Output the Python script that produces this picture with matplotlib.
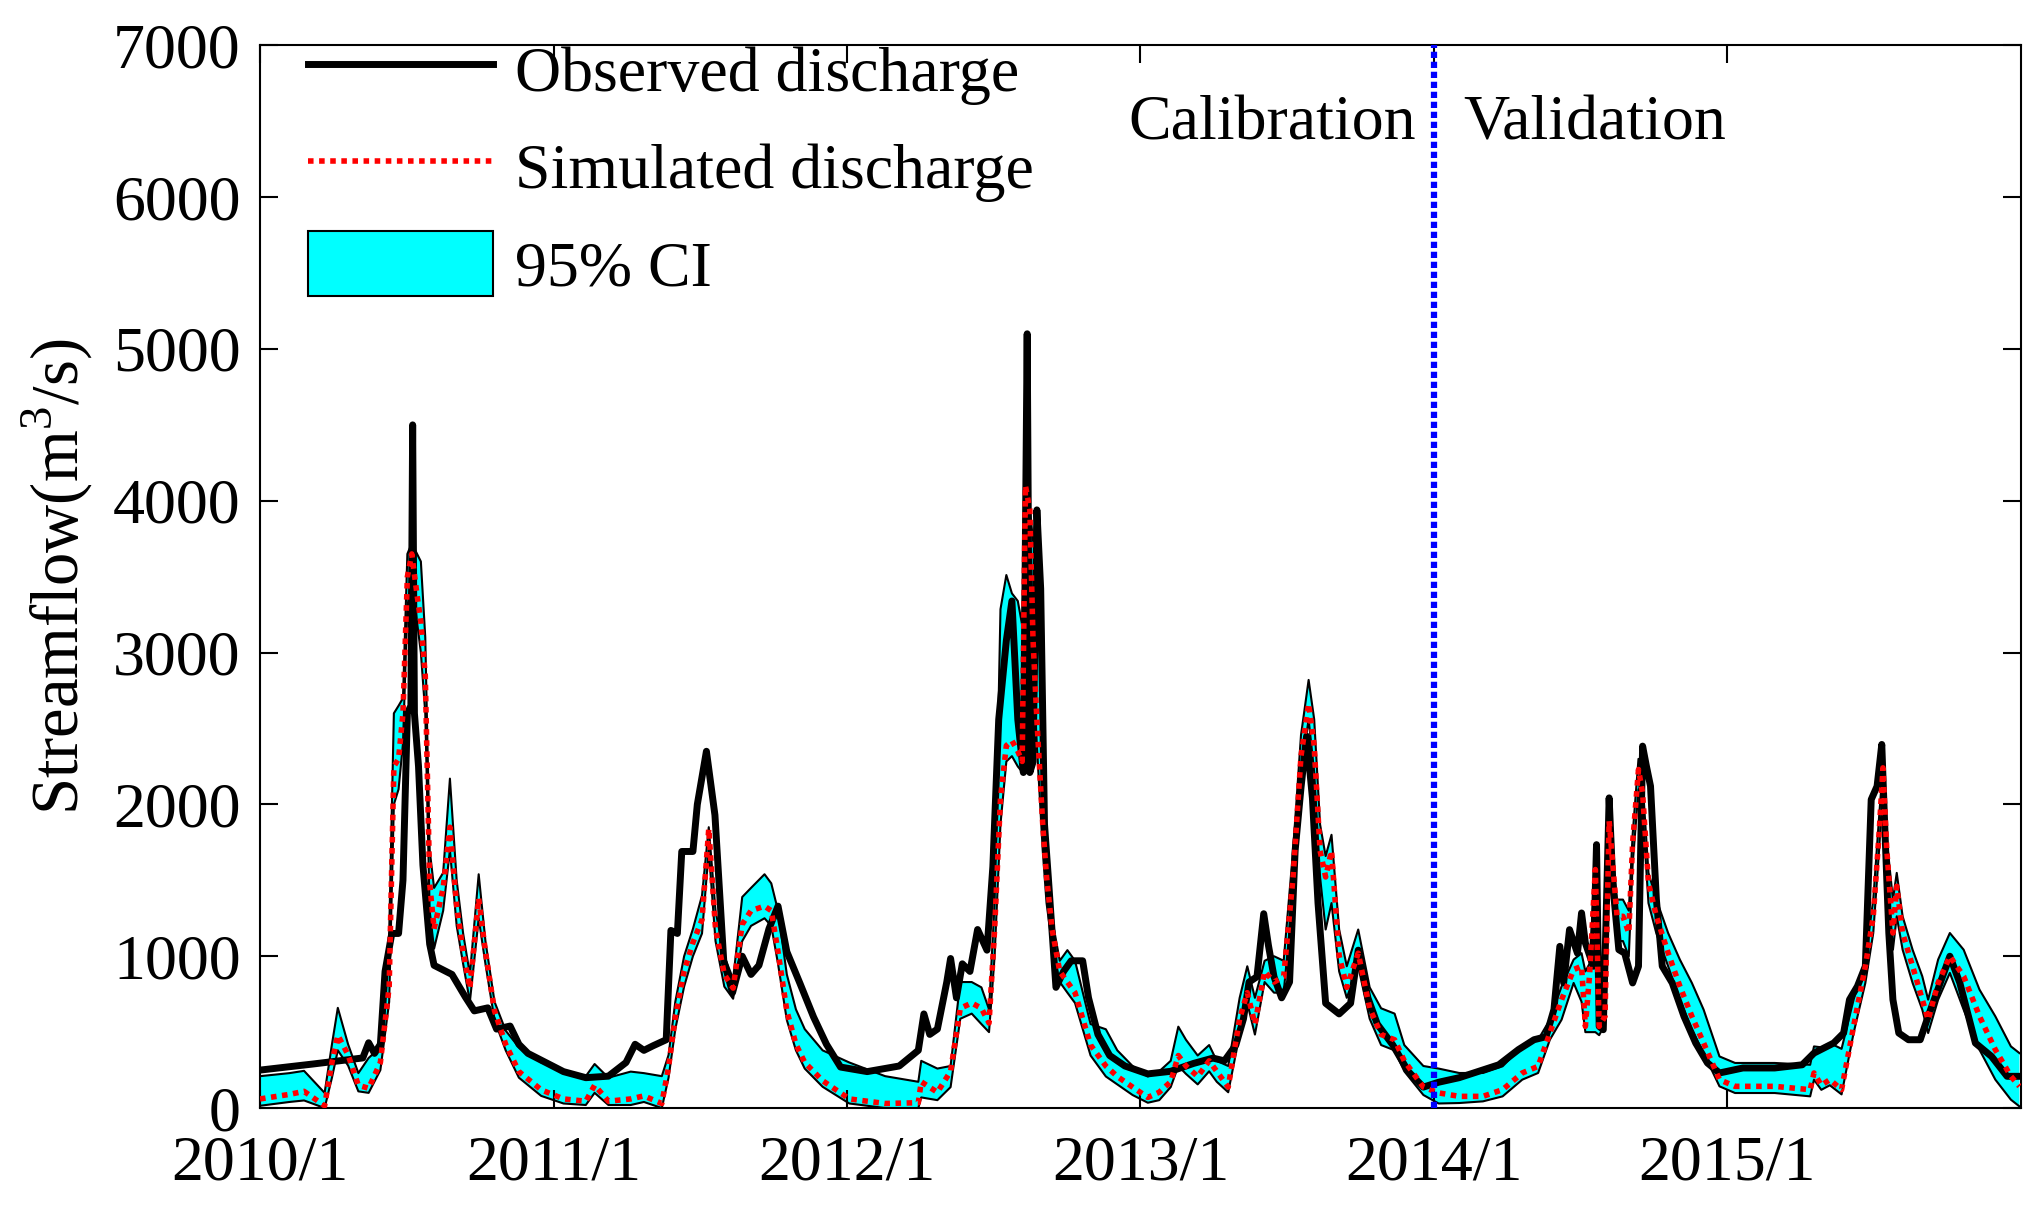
import matplotlib
matplotlib.use('Agg')
from matplotlib import pyplot as plt
from matplotlib.lines import Line2D
from matplotlib.patches import Patch

plt.rcParams['font.family'] = ['Liberation Serif', 'DejaVu Serif']
plt.rcParams['mathtext.fontset'] = 'custom'
plt.rcParams['mathtext.rm'] = 'Liberation Serif'

# observed discharge (time in decimal years, m3/s)
obs_t = [2010.000, 2010.180, 2010.350, 2010.370, 2010.390, 2010.410, 2010.426, 2010.449, 2010.472, 2010.487,
         2010.502, 2010.514, 2010.520, 2010.526, 2010.540, 2010.555, 2010.578, 2010.593, 2010.654, 2010.700,
         2010.730, 2010.776, 2010.806, 2010.852, 2010.882, 2010.913,
         2011.034, 2011.110, 2011.187, 2011.247, 2011.278, 2011.308, 2011.339, 2011.384, 2011.400, 2011.422,
         2011.437, 2011.475, 2011.490, 2011.521, 2011.550, 2011.580, 2011.610, 2011.643, 2011.673, 2011.700,
         2011.734, 2011.765, 2011.795, 2011.840, 2011.886, 2011.930, 2011.978,
         2012.069, 2012.178, 2012.243, 2012.262, 2012.282, 2012.308, 2012.340, 2012.353, 2012.373, 2012.393,
         2012.419, 2012.445, 2012.477, 2012.497, 2012.517, 2012.543, 2012.562, 2012.582, 2012.601, 2012.614,
         2012.623, 2012.634, 2012.647, 2012.660, 2012.673, 2012.686, 2012.712, 2012.738, 2012.764, 2012.803,
         2012.823, 2012.855, 2012.895, 2012.947,
         2013.025, 2013.103, 2013.181, 2013.247, 2013.286, 2013.325, 2013.351, 2013.370, 2013.397, 2013.420,
         2013.436, 2013.455, 2013.481, 2013.508, 2013.527, 2013.547, 2013.566, 2013.586, 2013.605, 2013.631,
         2013.677, 2013.716, 2013.742, 2013.775, 2013.807, 2013.860, 2013.912, 2013.964,
         2014.016, 2014.086, 2014.221, 2014.288, 2014.341, 2014.382, 2014.409, 2014.429, 2014.442, 2014.462,
         2014.489, 2014.503, 2014.516, 2014.543, 2014.554, 2014.563, 2014.577, 2014.597, 2014.610, 2014.630,
         2014.650, 2014.677, 2014.697, 2014.711, 2014.724, 2014.738, 2014.758, 2014.778, 2014.812, 2014.852,
         2014.892, 2014.932, 2014.973,
         2015.053, 2015.161, 2015.255, 2015.295, 2015.362, 2015.396, 2015.416, 2015.443, 2015.470, 2015.490,
         2015.510, 2015.526, 2015.537, 2015.550, 2015.564, 2015.584, 2015.617, 2015.657, 2015.684, 2015.725,
         2015.758, 2015.792, 2015.845, 2015.900, 2015.953, 2015.995]
obs_q = [250, 290, 330, 430, 360, 420, 900, 1150, 1150, 1500,
         2600, 2650, 4500, 2600, 2250, 1600, 1080, 940, 880, 730,
         640, 660, 520, 540, 420, 360,
         240, 200, 210, 300, 420, 380, 410, 450, 1170, 1150,
         1690, 1690, 2000, 2350, 1930, 970, 760, 1000, 880, 940,
         1180, 1330, 1030, 820, 600, 420, 270,
         240, 277, 380, 620, 485, 520, 830, 985, 726, 950,
         900, 1176, 1040, 1590, 2560, 3080, 3340, 2560, 2210, 5100,
         2210, 2280, 3940, 3420, 1870, 1520, 795, 900, 970, 970,
         726, 485, 346, 277,
         225, 242, 294, 329, 311, 415, 588, 830, 865, 1280,
         1072, 865, 726, 830, 1695, 2110, 2450, 2040, 1350, 690,
         620, 690, 1040, 726, 553, 415, 242, 138,
         170, 200, 285, 385, 450, 470, 650, 1065, 824, 1175,
         1020, 1285, 1087, 934, 1735, 538, 516, 2043, 1461, 1043,
         1020, 824, 934, 2384, 2252, 2120, 1373, 934, 824, 604,
         428, 297, 231,
         264, 264, 285, 362, 428, 494, 714, 802, 934, 2032,
         2120, 2395, 1813, 1153, 714, 494, 450, 450, 604, 824,
         1000, 824, 428, 340, 209, 209]

# simulated discharge and 95% confidence band
sim_t = [2010.000, 2010.100, 2010.150, 2010.220, 2010.245, 2010.265, 2010.300, 2010.335, 2010.370, 2010.410,
         2010.440, 2010.456, 2010.472, 2010.487, 2010.502, 2010.517, 2010.535, 2010.548, 2010.563, 2010.578,
         2010.593, 2010.624, 2010.647, 2010.670, 2010.692, 2010.715, 2010.745, 2010.768, 2010.799, 2010.837,
         2010.882, 2010.958,
         2011.034, 2011.110, 2011.140, 2011.187, 2011.263, 2011.308, 2011.369, 2011.392, 2011.415, 2011.445,
         2011.475, 2011.506, 2011.529, 2011.552, 2011.582, 2011.612, 2011.643, 2011.673, 2011.719, 2011.742,
         2011.765, 2011.795, 2011.826, 2011.856, 2011.917,
         2012.008, 2012.130, 2012.243, 2012.253, 2012.308, 2012.353, 2012.386, 2012.425, 2012.458, 2012.484,
         2012.503, 2012.523, 2012.543, 2012.562, 2012.582, 2012.597, 2012.608, 2012.623, 2012.634, 2012.647,
         2012.667, 2012.680, 2012.699, 2012.725, 2012.751, 2012.777, 2012.830, 2012.882, 2012.921, 2012.973,
         2013.025, 2013.064, 2013.103, 2013.129, 2013.155, 2013.195, 2013.234, 2013.260, 2013.299, 2013.338,
         2013.364, 2013.390, 2013.423, 2013.455, 2013.488, 2013.520, 2013.547, 2013.573, 2013.592, 2013.612,
         2013.631, 2013.651, 2013.677, 2013.703, 2013.742, 2013.781, 2013.820, 2013.866, 2013.899, 2013.964,
         2014.016, 2014.086, 2014.167, 2014.234, 2014.301, 2014.355, 2014.395, 2014.435, 2014.476, 2014.503,
         2014.516, 2014.530, 2014.550, 2014.563, 2014.583, 2014.597, 2014.610, 2014.624, 2014.644, 2014.664,
         2014.677, 2014.697, 2014.711, 2014.731, 2014.758, 2014.798, 2014.838, 2014.879, 2014.919, 2014.973,
         2015.026, 2015.161, 2015.282, 2015.295, 2015.320, 2015.349, 2015.389, 2015.430, 2015.470, 2015.497,
         2015.517, 2015.530, 2015.543, 2015.564, 2015.577, 2015.597, 2015.631, 2015.664, 2015.684, 2015.718,
         2015.758, 2015.805, 2015.859, 2015.913, 2015.966, 2015.995]
sim_q = [60, 90, 110, 15, 300, 480, 350, 150, 130, 300,
         800, 2250, 2300, 2600, 3500, 3650, 3380, 3200, 2850, 1480,
         1180, 1450, 1850, 1330, 1030, 790, 1380, 1030, 640, 420,
         240, 120,
         60, 45, 150, 45, 60, 80, 30, 270, 600, 900,
         1090, 1240, 1840, 1180, 880, 790, 1210, 1300, 1330, 1300,
         1030, 640, 420, 300, 180,
         60, 30, 35, 173, 104, 242, 657, 692, 657, 560,
         1176, 2040, 2387, 2420, 2350, 2283, 4100, 3940, 3080, 2560,
         1868, 1522, 1176, 900, 830, 760, 415, 277, 208, 138,
         70, 104, 173, 346, 277, 208, 311, 242, 138, 588,
         760, 553, 900, 830, 865, 1522, 2318, 2663, 2387, 1695,
         1522, 1695, 1003, 795, 1020, 657, 484, 450, 311, 138,
         100, 77, 77, 121, 231, 275, 494, 714, 912, 934,
         538, 868, 1571, 538, 604, 1890, 1593, 1263, 1263, 1153,
         1747, 2230, 2076, 1483, 1263, 1022, 802, 604, 428, 187,
         143, 143, 121, 231, 150, 187, 121, 538, 934, 1263,
         1813, 2241, 1703, 1153, 1461, 1153, 934, 714, 582, 824,
         1000, 868, 604, 384, 209, 143]
ci_lo = [15, 40, 50, 0, 200, 380, 280, 110, 100, 250,
         700, 2000, 2100, 2400, 3300, 3500, 3200, 3000, 2600, 1300,
         1050, 1300, 1700, 1200, 950, 700, 1250, 950, 580, 380,
         200, 80,
         30, 20, 100, 20, 20, 40, 0, 200, 520, 800,
         1000, 1150, 1700, 1100, 800, 720, 1100, 1200, 1250, 1200,
         950, 580, 380, 260, 140,
         30, 0, 0, 70, 52, 138, 588, 622, 553, 500,
         1000, 1870, 2283, 2318, 2250, 2214, 3600, 3700, 2905, 2390,
         1695, 1350, 1072, 830, 760, 692, 346, 208, 156, 86,
         35, 52, 138, 277, 225, 156, 242, 173, 104, 484,
         692, 484, 830, 760, 760, 1418, 2214, 2560, 2214, 1522,
         1176, 1350, 900, 726, 934, 588, 415, 380, 242, 86,
         30, 33, 44, 77, 187, 231, 450, 582, 824, 700,
         500, 500, 500, 480, 550, 1700, 1400, 1100, 1100, 1000,
         1600, 2100, 1950, 1350, 1150, 934, 714, 516, 362, 143,
         99, 99, 77, 187, 120, 150, 90, 494, 824, 1153,
         1703, 2120, 1593, 1043, 1263, 1043, 824, 648, 494, 714,
         890, 648, 384, 187, 55, 11]
ci_hi = [210, 230, 245, 100, 420, 660, 420, 230, 330, 400,
         1150, 2600, 2650, 2700, 3650, 3720, 3650, 3600, 3100, 1700,
         1450, 1550, 2170, 1500, 1150, 880, 1540, 1100, 700, 510,
         400, 300,
         250, 210, 290, 200, 240, 230, 210, 350, 700, 1000,
         1180, 1400, 1850, 1300, 1000, 850, 1390, 1450, 1540, 1480,
         1300, 880, 650, 520, 380,
         300, 210, 173, 311, 260, 277, 830, 830, 795, 650,
         1350, 3286, 3511, 3390, 3340, 3180, 4100, 3950, 3735, 3940,
         3250, 1590, 1245, 970, 1040, 970, 553, 519, 380, 277,
         208, 242, 311, 536, 450, 346, 415, 311, 277, 726,
         934, 726, 970, 1000, 970, 1695, 2456, 2820, 2560, 1868,
         1660, 1800, 1176, 934, 1176, 795, 657, 622, 415, 277,
         260, 231, 231, 275, 406, 450, 582, 802, 978, 1020,
         900, 950, 1600, 800, 900, 1950, 1650, 1373, 1373, 1300,
         1800, 2300, 2150, 1550, 1373, 1153, 978, 824, 648, 340,
         297, 297, 285, 406, 400, 428, 390, 714, 978, 1373,
         1922, 2252, 1769, 1373, 1549, 1263, 1043, 868, 714, 978,
         1153, 1043, 780, 604, 406, 362]

year_ticks = [2010, 2011, 2012, 2013, 2014, 2015]
year_labels = ['2010/1', '2011/1', '2012/1', '2013/1', '2014/1', '2015/1']
split_year = 2014.0

fig = plt.figure(figsize=(20.38, 12.09), dpi=100)
ax = fig.add_axes([0.1276, 0.0835, 0.864, 0.879])

ax.fill_between(sim_t, ci_lo, ci_hi, facecolor='#00FFFF', edgecolor='none', zorder=1)
ax.plot(sim_t, ci_lo, color='black', lw=1.5, zorder=2)
ax.plot(sim_t, ci_hi, color='black', lw=1.5, zorder=2)
ax.plot(obs_t, obs_q, color='black', lw=5, zorder=3)
ax.plot(sim_t, sim_q, color='red', lw=4, dashes=(1, 1), zorder=4)
ax.axvline(split_year, color='blue', lw=4.5, dashes=(1, 0.6), zorder=5)

ax.text(split_year - 0.06, 6480, 'Calibration', ha='right', va='center', fontsize=46)
ax.text(split_year + 0.1, 6480, 'Validation', ha='left', va='center', fontsize=46)

ax.set_xlim(2010, 2016)
ax.set_ylim(0, 7000)
ax.set_xticks(year_ticks)
ax.set_xticklabels(year_labels)
ax.set_yticks(range(0, 7001, 1000))
ax.tick_params(direction='in', top=True, right=True, length=13, width=1.5,
               labelsize=46, pad=14)
ax.tick_params(axis='x', pad=20)
for s in ax.spines.values():
    s.set_linewidth(1.5)

ax.set_ylabel('Streamflow(m$^{3}$/s)', fontsize=48)
ax.yaxis.set_label_coords(-0.094, 0.5)

handles = [Line2D([], [], color='black', lw=5),
           Line2D([], [], color='red', lw=4, dashes=(1, 1)),
           Patch(facecolor='#00FFFF', edgecolor='black', lw=1.5)]
ax.legend(handles, ['Observed discharge', 'Simulated discharge', '95% CI'],
          loc='upper left', bbox_to_anchor=(0.027, 1.008), frameon=False,
          fontsize=46, borderpad=0, borderaxespad=0, handlelength=2.9,
          handleheight=1.2, handletextpad=0.35, labelspacing=0.45)

fig.savefig('out.png', dpi=100)
